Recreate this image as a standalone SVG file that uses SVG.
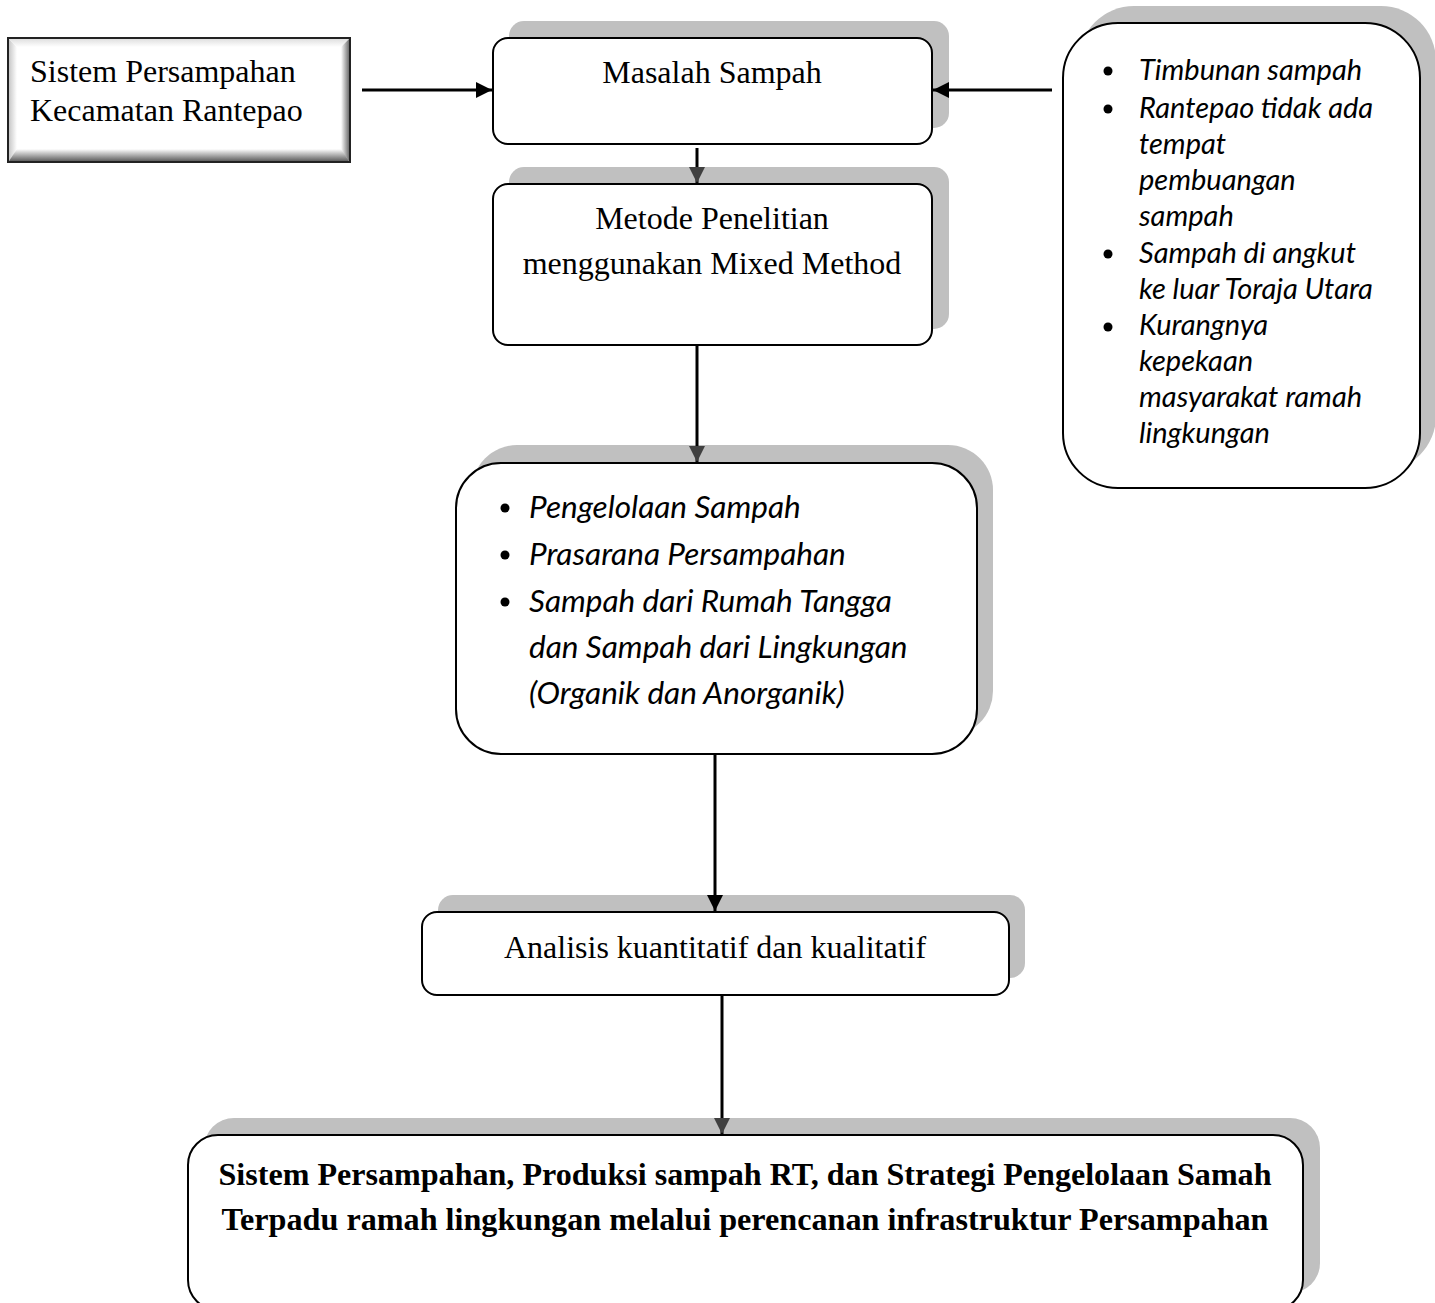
<svg xmlns="http://www.w3.org/2000/svg" width="1435" height="1303" viewBox="0 0 1435 1303">
<defs>
<marker id="ahB" markerUnits="userSpaceOnUse" markerWidth="16" markerHeight="16" viewBox="0 0 16 16" refX="16" refY="8" orient="auto"><path d="M0,0 L16,8 L0,16 Z" fill="#000"/></marker>
<marker id="ahG" markerUnits="userSpaceOnUse" markerWidth="16" markerHeight="16" viewBox="0 0 16 16" refX="16" refY="8" orient="auto"><path d="M0,0 L16,8 L0,16 Z" fill="#404040"/></marker>
<linearGradient id="gL" x1="0" x2="1" y1="0" y2="0"><stop offset="0" stop-color="#c8c8c8"/><stop offset="1" stop-color="#ffffff"/></linearGradient>
<linearGradient id="gT" x1="0" x2="0" y1="0" y2="1"><stop offset="0" stop-color="#e0e0e0"/><stop offset="1" stop-color="#ffffff"/></linearGradient>
<linearGradient id="gR" x1="0" x2="1" y1="0" y2="0"><stop offset="0" stop-color="#ffffff"/><stop offset="1" stop-color="#707070"/></linearGradient>
<linearGradient id="gB" x1="0" x2="0" y1="0" y2="1"><stop offset="0" stop-color="#ffffff"/><stop offset="1" stop-color="#606060"/></linearGradient>
</defs>
<style>
.shadow{fill:#c0c0c0;stroke:none}
.box{fill:#ffffff;stroke:#000;stroke-width:2}
.serif{font-family:"Liberation Serif","Times New Roman",serif;font-size:32px;fill:#000}
.bold{font-family:"Liberation Serif","Times New Roman",serif;font-size:32px;font-weight:bold;fill:#000}
.ital{font-family:Lato,"Open Sans",sans-serif;font-style:italic;font-size:29px;fill:#000}
.ital2{font-family:Lato,"Open Sans",sans-serif;font-style:italic;font-size:31.5px;fill:#000}
.conn{stroke:#000;stroke-width:3;fill:none}
</style>

<g id="node-sistem">
<rect x="8" y="38" width="342" height="124" fill="#fff"/>
<polygon points="9,39 17,47 17,153 9,161" fill="url(#gL)"/>
<polygon points="9,39 349,39 341,47 17,47" fill="url(#gT)"/>
<polygon points="349,39 349,161 341,151 341,47" fill="url(#gR)"/>
<polygon points="9,161 349,161 341,149 17,149" fill="url(#gB)"/>
<rect x="8" y="38" width="342" height="124" fill="none" stroke="#222" stroke-width="2"/>
<text class="serif" x="30" y="82">Sistem Persampahan</text>
<text class="serif" x="30" y="121">Kecamatan Rantepao</text>
</g>

<g id="node-masalah">
<rect class="shadow" x="509" y="21" width="440" height="107" rx="15"/>
<rect class="box" x="493" y="38" width="439" height="106" rx="15"/>
<text class="serif" x="712" y="83" text-anchor="middle">Masalah Sampah</text>
</g>

<g id="node-masalah-list">
<rect class="shadow" x="1079" y="6" width="357" height="465" rx="55"/>
<rect class="box" x="1063" y="23" width="357" height="465" rx="55"/>
<g fill="#000">
<circle cx="1108" cy="71" r="4.5"/>
<circle cx="1108" cy="109" r="4.5"/>
<circle cx="1108" cy="254" r="4.5"/>
<circle cx="1108" cy="327" r="4.5"/>
</g>
<text class="ital" x="1139" y="80">Timbunan sampah</text>
<text class="ital" x="1139" y="118">Rantepao tidak ada</text>
<text class="ital" x="1139" y="154">tempat</text>
<text class="ital" x="1139" y="190">pembuangan</text>
<text class="ital" x="1139" y="226">sampah</text>
<text class="ital" x="1139" y="263">Sampah di angkut</text>
<text class="ital" x="1139" y="299">ke luar Toraja Utara</text>
<text class="ital" x="1139" y="335">Kurangnya</text>
<text class="ital" x="1139" y="371">kepekaan</text>
<text class="ital" x="1139" y="407">masyarakat ramah</text>
<text class="ital" x="1139" y="443">lingkungan</text>
</g>

<g id="node-metode">
<rect class="shadow" x="509" y="167" width="440" height="162" rx="15"/>
<rect class="box" x="493" y="184" width="439" height="161" rx="15"/>
<text class="serif" x="712" y="229" text-anchor="middle">Metode Penelitian</text>
<text class="serif" x="712" y="274" text-anchor="middle">menggunakan Mixed Method</text>
</g>

<g id="node-pengelolaan">
<rect class="shadow" x="472" y="445" width="521" height="291" rx="45"/>
<rect class="box" x="456" y="463" width="521" height="291" rx="45"/>
<g fill="#000">
<circle cx="505" cy="508" r="4.5"/>
<circle cx="505" cy="555" r="4.5"/>
<circle cx="505" cy="602" r="4.5"/>
</g>
<text class="ital2" x="529" y="518">Pengelolaan Sampah</text>
<text class="ital2" x="529" y="565">Prasarana Persampahan</text>
<text class="ital2" x="529" y="612">Sampah dari Rumah Tangga</text>
<text class="ital2" x="529" y="658">dan Sampah dari Lingkungan</text>
<text class="ital2" x="529" y="704">(Organik dan Anorganik)</text>
</g>

<g id="node-analisis">
<rect class="shadow" x="438" y="895" width="587" height="83" rx="15"/>
<rect class="box" x="422" y="912" width="587" height="83" rx="15"/>
<text class="serif" x="715" y="958" text-anchor="middle">Analisis kuantitatif dan kualitatif</text>
</g>

<g id="node-hasil">
<rect class="shadow" x="204" y="1118" width="1116" height="175" rx="30"/>
<rect class="box" x="188" y="1135" width="1115" height="175" rx="30"/>
<text class="bold" x="745" y="1185" text-anchor="middle" textLength="1053" lengthAdjust="spacingAndGlyphs">Sistem Persampahan, Produksi sampah RT, dan Strategi Pengelolaan Samah</text>
<text class="bold" x="745" y="1230" text-anchor="middle" textLength="1047" lengthAdjust="spacingAndGlyphs">Terpadu ramah lingkungan melalui perencanan infrastruktur Persampahan</text>
</g>

<g id="connectors">
<line class="conn" x1="362" y1="90" x2="492" y2="90" marker-end="url(#ahB)"/>
<line class="conn" x1="1052" y1="90" x2="933" y2="90" marker-end="url(#ahB)"/>
<line class="conn" x1="697" y1="148" x2="697" y2="183" marker-end="url(#ahG)"/>
<line class="conn" x1="697" y1="345" x2="697" y2="462" marker-end="url(#ahG)"/>
<line class="conn" x1="715" y1="754" x2="715" y2="911" marker-end="url(#ahB)"/>
<line class="conn" x1="722" y1="995" x2="722" y2="1134" marker-end="url(#ahG)"/>
</g>
</svg>
